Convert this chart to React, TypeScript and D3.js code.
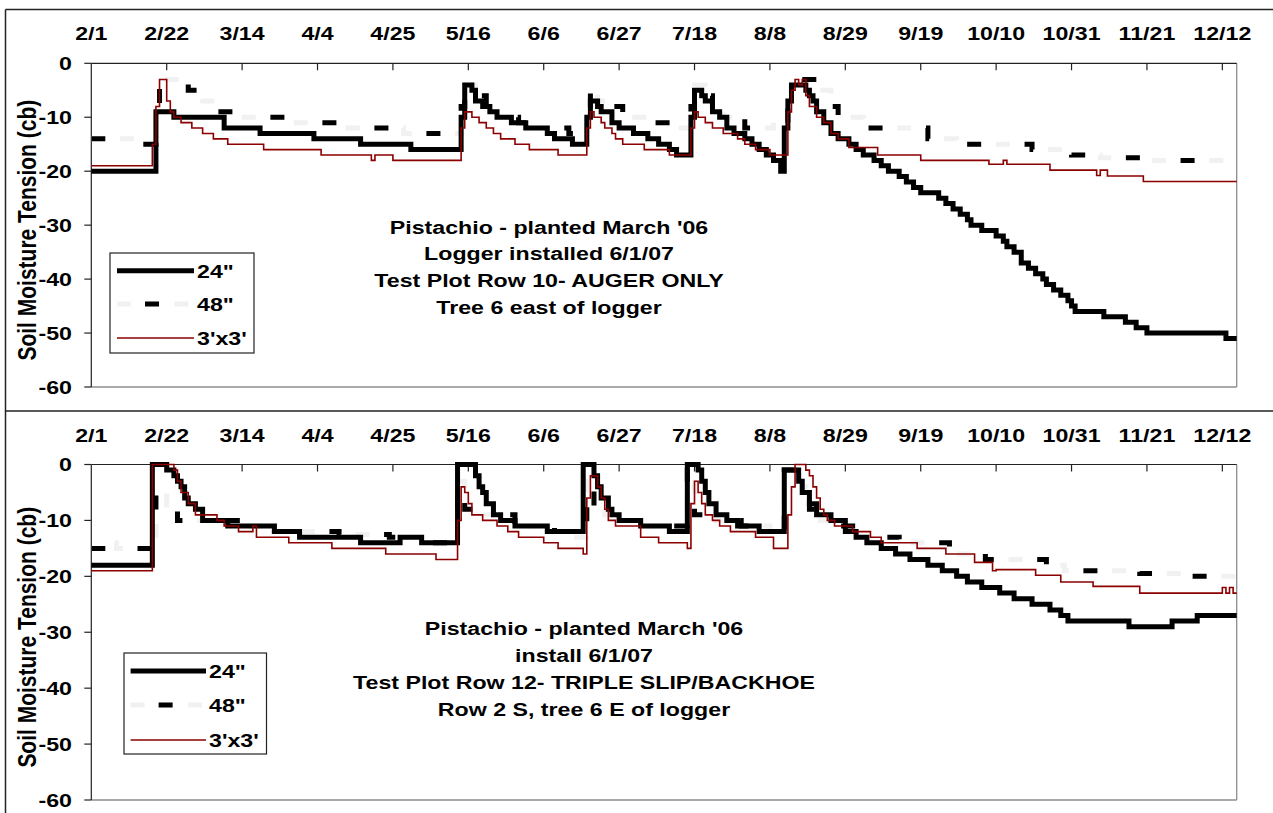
import * as d3 from 'd3';

// x axis labels (2008, every 21 days) and y ticks
const X_TICKS = ['2/1', '2/22', '3/14', '4/4', '4/25', '5/16', '6/6', '6/27', '7/18', '8/8', '8/29', '9/19', '10/10', '10/31', '11/21', '12/12'];
const Y_TICKS = [0, -10, -20, -30, -40, -50, -60];
const SERIES = ['24"', '48"', "3'x3'"];

const TOP_NOTE = ["Pistachio - planted March '06", 'Logger installed 6/1/07', 'Test Plot Row 10- AUGER ONLY', 'Tree 6 east of logger'];
const BOTTOM_NOTE = ["Pistachio - planted March '06", 'install 6/1/07', 'Test Plot Row 12- TRIPLE SLIP/BACKHOE', 'Row 2 S, tree 6 E of logger'];

// soil moisture tension (cb); each value holds until the next date
const TOP_24 = [
    ['2/1', -20], ['2/19', -9], ['2/24', -10], ['3/9', -12], ['3/19', -13], ['4/3', -14], ['4/16', -15], ['4/30', -16],
    ['5/14', -10], ['5/15', -4], ['5/17', -5], ['5/18', -7], ['5/20', -8], ['5/22', -9], ['5/24', -10], ['5/28', -11],
    ['6/1', -12], ['6/7', -13], ['6/9', -14], ['6/14', -15], ['6/18', -10], ['6/19', -7], ['6/21', -8], ['6/22', -9],
    ['6/25', -11], ['6/27', -12], ['7/1', -13], ['7/5', -14], ['7/8', -15], ['7/11', -16], ['7/13', -17], ['7/17', -10],
    ['7/18', -5], ['7/20', -6], ['7/21', -7], ['7/23', -9], ['7/25', -10], ['7/27', -12], ['7/29', -13], ['8/1', -14],
    ['8/3', -15], ['8/5', -16], ['8/7', -17], ['8/9', -18], ['8/11', -20], ['8/12', -12], ['8/13', -7], ['8/14', -4],
    ['8/18', -5], ['8/19', -6], ['8/20', -7], ['8/21', -9], ['8/23', -11], ['8/25', -13], ['8/27', -14], ['8/30', -15],
    ['9/1', -16], ['9/3', -17], ['9/6', -18], ['9/8', -19], ['9/10', -20], ['9/13', -21], ['9/15', -22], ['9/17', -23],
    ['9/19', -24], ['9/24', -25], ['9/26', -26], ['9/28', -27], ['9/30', -28], ['10/2', -29], ['10/3', -30], ['10/6', -31],
    ['10/10', -32], ['10/12', -33], ['10/13', -34], ['10/15', -35], ['10/17', -37], ['10/19', -38], ['10/21', -39],
    ['10/23', -40], ['10/24', -41], ['10/26', -42], ['10/28', -43], ['10/30', -44], ['10/31', -45], ['11/1', -46],
    ['11/9', -47], ['11/15', -48], ['11/18', -49], ['11/21', -50], ['12/13', -51], ['12/16', -51]
];
const TOP_48 = [
    ['2/1', -14], ['2/14', -15], ['2/19', -8], ['2/20', -3], ['2/28', -5], ['3/3', -7], ['3/7', -9], ['3/13', -10],
    ['3/28', -11], ['4/10', -12], ['4/28', -13], ['5/14', -8], ['5/15', -4], ['5/18', -6], ['5/21', -8], ['5/24', -10],
    ['5/30', -11], ['6/4', -12], ['6/13', -13], ['6/18', -9], ['6/19', -5], ['6/21', -7], ['6/24', -8], ['6/28', -10],
    ['7/7', -11], ['7/13', -12], ['7/17', -8], ['7/18', -4], ['7/21', -6], ['7/23', -8], ['7/26', -10], ['8/1', -12],
    ['8/9', -11], ['8/13', -7], ['8/14', -3], ['8/22', -5], ['8/25', -8], ['8/27', -10], ['9/3', -12], ['9/21', -14],
    ['9/29', -15], ['10/20', -16], ['10/31', -17], ['11/8', -17.5], ['11/22', -18], ['12/16', -18]
];
const TOP_3X3 = [
    ['2/1', -19], ['2/18', -15], ['2/19', -8], ['2/20', -3], ['2/22', -7], ['2/23', -9], ['2/24', -10], ['2/26', -11],
    ['2/29', -12], ['3/3', -13], ['3/6', -14], ['3/10', -15], ['3/20', -16], ['4/5', -17], ['4/19', -18], ['4/20', -17],
    ['4/25', -18], ['5/14', -12], ['5/15', -9], ['5/17', -10], ['5/19', -11], ['5/21', -12], ['5/23', -13], ['5/25', -14],
    ['5/29', -15], ['6/2', -16], ['6/10', -17], ['6/18', -12], ['6/19', -9], ['6/20', -10], ['6/22', -11], ['6/23', -12],
    ['6/25', -13], ['6/26', -14], ['6/28', -15], ['7/4', -16], ['7/11', -17], ['7/17', -12], ['7/18', -9], ['7/19', -10],
    ['7/21', -11], ['7/23', -12], ['7/26', -13], ['7/30', -14], ['8/1', -15], ['8/4', -16], ['8/8', -17], ['8/13', -9],
    ['8/14', -5], ['8/15', -3], ['8/16', -4], ['8/17', -3], ['8/18', -6], ['8/19', -8], ['8/21', -10], ['8/23', -11],
    ['8/25', -13], ['8/27', -14], ['8/30', -15.6], ['9/7', -17], ['9/19', -18], ['10/8', -18.7], ['10/12', -18],
    ['10/13', -18.7], ['10/25', -19.8], ['11/7', -20.8], ['11/8', -19.8], ['11/10', -20.9], ['11/20', -21.9], ['12/16', -21.9]
];

const BOTTOM_24 = [
    ['2/1', -18], ['2/18', 0], ['2/22', -1], ['2/24', -2], ['2/25', -3], ['2/26', -4], ['2/27', -6], ['2/28', -7],
    ['3/1', -8], ['3/3', -10], ['3/10', -11], ['3/23', -12], ['3/30', -13], ['4/16', -14], ['4/27', -13], ['5/3', -14],
    ['5/13', 0], ['5/18', -2], ['5/19', -4], ['5/20', -5], ['5/21', -7], ['5/23', -9], ['5/25', -10], ['5/29', -11],
    ['6/7', -12], ['6/17', 0], ['6/20', -2], ['6/21', -4], ['6/22', -6], ['6/24', -8], ['6/25', -9], ['6/27', -10],
    ['7/3', -11], ['7/11', -12], ['7/16', 0], ['7/19', -1], ['7/20', -3], ['7/21', -5], ['7/22', -7], ['7/24', -9],
    ['7/27', -10], ['7/30', -11], ['8/5', -12], ['8/12', -1], ['8/16', -3], ['8/17', -5], ['8/19', -7], ['8/21', -9],
    ['8/25', -10], ['8/29', -12], ['9/1', -13], ['9/4', -14], ['9/8', -15], ['9/12', -16], ['9/16', -17], ['9/21', -18],
    ['9/25', -19], ['9/29', -20], ['10/2', -21], ['10/6', -22], ['10/11', -23], ['10/15', -24], ['10/20', -25],
    ['10/25', -26], ['10/28', -27], ['10/30', -28], ['11/16', -29], ['11/28', -28], ['12/5', -27], ['12/16', -27]
];
const BOTTOM_48 = [
    ['2/1', -15], ['2/5', -14], ['2/8', -15], ['2/19', -5], ['2/22', -8], ['2/25', -10], ['3/14', -11], ['3/23', -12],
    ['4/10', -12.5], ['4/24', -13], ['5/5', -14], ['5/13', -3], ['5/15', -8], ['5/20', -9], ['5/29', -11], ['6/9', -12],
    ['6/14', -13], ['6/18', -3], ['6/20', -8], ['6/23', -9], ['6/28', -10], ['7/3', -11], ['7/16', -1], ['7/18', -9],
    ['7/24', -10], ['7/31', -11], ['8/8', -12], ['8/12', -1], ['8/17', -4], ['8/19', -8], ['8/22', -10], ['8/27', -11],
    ['9/2', -13], ['9/13', -14], ['9/27', -16], ['10/7', -17], ['10/24', -18], ['10/29', -19], ['11/19', -19.5],
    ['12/1', -20], ['12/16', -20]
];
const BOTTOM_3X3 = [
    ['2/1', -19], ['2/18', 0], ['2/24', -1], ['2/25', -3], ['2/26', -5], ['2/28', -7], ['3/1', -9], ['3/7', -10],
    ['3/9', -11], ['3/13', -12], ['3/17', -11], ['3/18', -13], ['3/27', -14], ['4/8', -15], ['4/23', -16], ['5/7', -17],
    ['5/13', -10], ['5/14', -4], ['5/15', -5], ['5/16', -7], ['5/17', -9], ['5/20', -10], ['5/24', -11], ['5/27', -12],
    ['5/30', -13], ['6/6', -14], ['6/10', -15], ['6/17', -16], ['6/18', -6], ['6/19', -2], ['6/21', -4], ['6/22', -6],
    ['6/23', -8], ['6/24', -10], ['6/26', -11], ['7/3', -13], ['7/8', -14], ['7/16', -15], ['7/17', -7], ['7/18', -3],
    ['7/19', -5], ['7/20', -7], ['7/21', -9], ['7/23', -10], ['7/25', -11], ['7/28', -12], ['8/4', -13], ['8/9', -15],
    ['8/13', -9], ['8/14', -4], ['8/15', 0], ['8/18', -1], ['8/19', -2], ['8/20', -4], ['8/21', -6], ['8/22', -8],
    ['8/23', -9], ['8/24', -10], ['8/26', -11], ['8/31', -12], ['9/5', -13], ['9/8', -14], ['9/18', -15], ['9/26', -16],
    ['10/4', -17.5], ['10/9', -19], ['10/10', -18.8], ['10/21', -19.8], ['10/28', -21], ['11/6', -21.8], ['11/19', -23],
    ['12/12', -22], ['12/13', -23], ['12/14', -22], ['12/15', -23], ['12/16', -23]
];

const FONT = "'Liberation Sans', Arial, Helvetica, sans-serif";
const SX = 1.22; // the picture is stretched sideways
const PLOT_LEFT = 91.3;
const PLOT_RIGHT = 1236.7;

const toDate = (s) => {
    const [m, d] = s.split('/').map(Number);
    return new Date(2008, m - 1, d);
};

const xScale = d3.scaleTime().domain([toDate('2/1'), toDate('12/16')]).range([PLOT_LEFT, PLOT_RIGHT]);

const PANELS = [
    {
        top: 63.3, bottom: 387, labelY: 40,
        legend: {x: 110, y: 253, w: 144, h: 100, x0: 117, x1: 194, rows: [270.7, 304, 338]},
        note: TOP_NOTE, noteX: 549, noteY: 226.7,
        data: [TOP_24, TOP_48, TOP_3X3]
    },
    {
        top: 464.5, bottom: 800, labelY: 442,
        legend: {x: 124, y: 653, w: 142.5, h: 101, x0: 130.6, x1: 206, rows: [671, 705, 740]},
        note: BOTTOM_NOTE, noteX: 584, noteY: 628.3,
        data: [BOTTOM_24, BOTTOM_48, BOTTOM_3X3]
    }
];

function Txt({x, y, anchor = 'middle', size = 19, children}) {
    return (
        <text transform={`translate(${x},${y}) scale(${SX},1)`} textAnchor={anchor}
            fontFamily={FONT} fontWeight="bold" fontSize={size} fill="#000">{children}</text>
    );
}

// the 48" line: black dashes with faint grey ones between them
const GREY_DASH = {stroke: '#f1f1f1', strokeWidth: 5, strokeDasharray: '14 14.7', fill: 'none'};
const BLACK_DASH = {stroke: '#000', strokeWidth: 5, strokeDasharray: '14 43.4', fill: 'none'};
const THICK = {stroke: '#000', strokeWidth: 5, fill: 'none'};
const RED = {stroke: '#8b0000', strokeWidth: 1.6, fill: 'none'};

function Panel({p}) {
    const yScale = d3.scaleLinear().domain([0, -60]).range([p.top, p.bottom]);
    const line = d3.line()
        .x((d) => xScale(toDate(d[0])))
        .y((d) => yScale(d[1]))
        .curve(d3.curveStepAfter);
    const [d24, d48, d3x3] = p.data.map((s) => line(s));
    const lg = p.legend;
    const titleY = (p.top + p.bottom) / 2 + 5;

    return (
        <g>
            {/* axis title */}
            <text transform={`translate(36,${titleY}) scale(${SX},1) rotate(-90)`} textAnchor="middle"
                fontFamily={FONT} fontWeight="bold" fontSize={21}>Soil Moisture Tension (cb)</text>

            {/* frame of the plot */}
            <line x1={PLOT_LEFT} x2={PLOT_RIGHT} y1={p.bottom} y2={p.bottom} stroke="#8c8c8c" strokeWidth={1.3} />
            <line x1={PLOT_RIGHT} x2={PLOT_RIGHT} y1={p.top} y2={p.bottom} stroke="#8c8c8c" strokeWidth={1.3} />
            <line x1={PLOT_LEFT} x2={PLOT_RIGHT} y1={p.top} y2={p.top} stroke="#222" strokeWidth={1.2} />
            <line x1={PLOT_LEFT} x2={PLOT_LEFT} y1={p.top} y2={p.bottom} stroke="#222" strokeWidth={1.2} />

            {X_TICKS.map((t) => {
                const x = xScale(toDate(t));
                return (
                    <g key={t}>
                        {t !== '2/1' && <line x1={x} x2={x} y1={p.top} y2={p.top + 7} stroke="#222" strokeWidth={1.2} />}
                        <Txt x={x} y={p.labelY}>{t}</Txt>
                    </g>
                );
            })}
            {Y_TICKS.map((v) => (
                <g key={v}>
                    <line x1={PLOT_LEFT - 7} x2={PLOT_LEFT} y1={yScale(v)} y2={yScale(v)} stroke="#222" strokeWidth={1.2} />
                    <Txt x={72} y={yScale(v) + 6.8} anchor="end">{v}</Txt>
                </g>
            ))}

            {/* series */}
            <path d={d48} {...GREY_DASH} />
            <path d={d24} {...THICK} />
            <path d={d48} {...BLACK_DASH} />
            <path d={d3x3} {...RED} />

            {/* notes */}
            {p.note.map((t, i) => (
                <Txt key={t} x={p.noteX} y={p.noteY + i * 26.8 + 6.8}>{t}</Txt>
            ))}

            {/* legend */}
            <rect x={lg.x} y={lg.y} width={lg.w} height={lg.h} fill="#fff" stroke="#222" strokeWidth={1.2} />
            <line x1={lg.x0} x2={lg.x1} y1={lg.rows[0]} y2={lg.rows[0]} {...THICK} />
            <line x1={lg.x0} x2={lg.x1} y1={lg.rows[1]} y2={lg.rows[1]} {...GREY_DASH} />
            <line x1={lg.x0} x2={lg.x1} y1={lg.rows[1]} y2={lg.rows[1]} {...BLACK_DASH} strokeDashoffset={-28} />
            <line x1={lg.x0} x2={lg.x1} y1={lg.rows[2]} y2={lg.rows[2]} {...RED} />
            {SERIES.map((s, i) => (
                <Txt key={s} x={lg.x1 + 3} y={lg.rows[i] + 6.8} anchor="start">{s}</Txt>
            ))}
        </g>
    );
}

export default function App() {
    return (
        <svg width={1273} height={813} style={{position: 'absolute', left: 0, top: 0, background: '#fff'}}>
            <rect x={0} y={0} width={1273} height={813} fill="#fff" />
            {/* outer frame and the line between the two charts */}
            <line x1={5.5} x2={1273} y1={9.5} y2={9.5} stroke="#222" strokeWidth={1.5} />
            <line x1={5.5} x2={5.5} y1={9.5} y2={813} stroke="#222" strokeWidth={1.5} />
            <line x1={5.5} x2={1273} y1={411} y2={411} stroke="#222" strokeWidth={1.5} />
            {PANELS.map((p, i) => <Panel key={i} p={p} />)}
        </svg>
    );
}
